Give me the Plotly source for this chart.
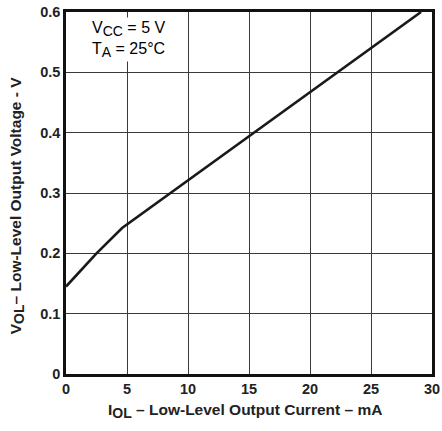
import plotly.graph_objects as go

# Data
i_ol = [0, 2.5, 4.6, 29.1]
v_ol = [0.145, 0.2, 0.242, 0.6]

x_ticks = [0, 5, 10, 15, 20, 25, 30]
x_labels = ["0", "5", "10", "15", "20", "25", "30"]
y_ticks = [0, 0.1, 0.2, 0.3, 0.4, 0.5, 0.6]
y_labels = ["0", "0.1", "0.2", "0.3", "0.4", "0.5", "0.6"]

font_fam = "Liberation Sans, Arial, sans-serif"

fig = go.Figure()
fig.add_trace(go.Scatter(x=i_ol, y=v_ol, mode="lines",
                         line=dict(color="#1a1a1a", width=2.6),
                         showlegend=False, hoverinfo="skip"))

sub = '<sub><span style="font-size:14px">{}</span></sub>'

fig.update_layout(
    width=442, height=431,
    margin=dict(l=66, r=10, t=12, b=57, autoexpand=False),
    paper_bgcolor="white", plot_bgcolor="white",
    font=dict(family=font_fam, color="#222222"),
    xaxis=dict(range=[0, 30], tickvals=x_ticks, ticktext=x_labels, automargin=False,
               showgrid=True, gridcolor="#3a3a3a", gridwidth=1.3,
               zeroline=False, showline=True, linecolor="#111111", linewidth=2.5,
               mirror=True, ticks="", tickfont=dict(size=14.5, family=font_fam, weight="bold")),
    yaxis=dict(range=[0, 0.6], tickvals=y_ticks, ticktext=y_labels, automargin=False,
               showgrid=True, gridcolor="#3a3a3a", gridwidth=1.3,
               zeroline=False, showline=True, linecolor="#111111", linewidth=2.5,
               mirror=True, ticks="", tickfont=dict(size=14.5, family=font_fam, weight="bold")),
)

# axis titles
fig.add_annotation(
    x=0.489, y=-0.102, xref="paper", yref="paper", xanchor="center", yanchor="middle",
    text="<b>I" + sub.format("OL") + " – Low-Level Output Current – mA</b>",
    showarrow=False, font=dict(size=15.5, family=font_fam, color="#222222"),
)
fig.add_annotation(
    x=-0.134, y=0.466, xref="paper", yref="paper", xanchor="center", yanchor="middle",
    textangle=-90,
    text="<b>V" + sub.format("OL") + "– Low-Level Output Voltage - V</b>",
    showarrow=False, font=dict(size=15.5, family=font_fam, color="#222222"),
)

fig.add_annotation(
    x=0.065, y=0.985, xref="paper", yref="paper", xanchor="left", yanchor="top",
    text="V" + sub.format("CC") + " = 5 V<br>T" + sub.format("A") + " = 25°C",
    showarrow=False, align="left", bgcolor="white",
    font=dict(size=16, family=font_fam, color="#000000"),
)

fig.write_html("out.html", config={"displayModeBar": False},
               post_script="document.body.style.margin='0';document.body.style.overflow='hidden';")
